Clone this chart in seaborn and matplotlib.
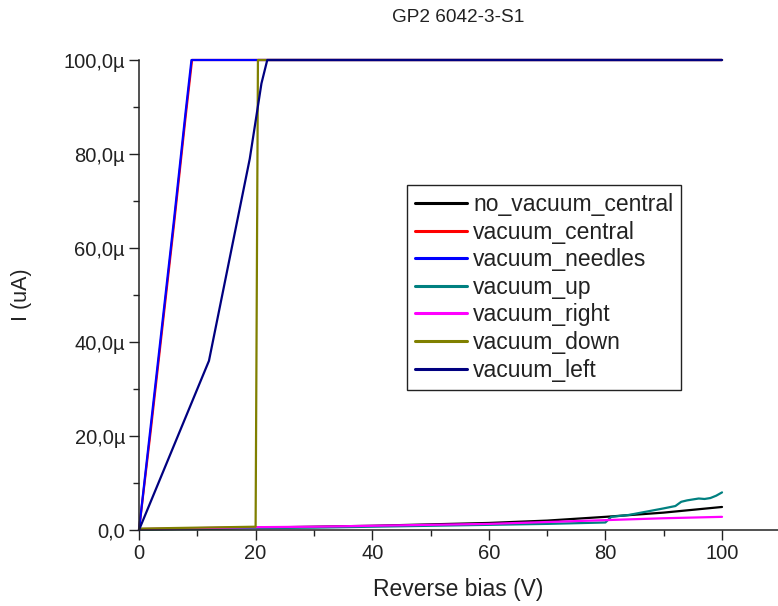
import matplotlib
matplotlib.use("Agg")
import matplotlib.pyplot as plt
from matplotlib.ticker import FuncFormatter, MultipleLocator
import seaborn as sns
import pandas as pd

sns.set_theme(style="white")
plt.rcParams["font.family"] = ["Liberation Sans", "DejaVu Sans"]

title = "GP2 6042-3-S1"
x_label = "Reverse bias (V)"
y_label = "I (uA)"

# Current in µA versus reverse bias in V for each probing condition
no_vacuum_central_v = [0, 10, 20, 30, 40, 50, 60, 70, 80, 90, 100]
no_vacuum_central_i = [0.1, 0.3, 0.5, 0.7, 0.9, 1.2, 1.5, 2.0, 2.8, 3.7, 4.9]

vacuum_central_v = [0, 2, 4, 6, 8, 9.1, 10, 100]
vacuum_central_i = [0.0, 21, 43, 65, 88, 100, 100, 100]

vacuum_needles_v = [0, 2, 4, 6, 8, 9.0, 10, 100]
vacuum_needles_i = [0.0, 22, 44, 66, 89, 100, 100, 100]

vacuum_up_v = [0, 10, 20, 30, 40, 50, 60, 70, 80, 81, 84, 87, 90, 92, 93, 94, 95, 96, 97, 98, 99, 100]
vacuum_up_i = [0.1, 0.2, 0.4, 0.5, 0.7, 0.9, 1.1, 1.3, 1.6, 2.8, 3.2, 3.9, 4.6, 5.1, 6.0, 6.3, 6.5, 6.7, 6.6, 6.8, 7.3, 8.0]

vacuum_right_v = [0, 10, 20, 30, 40, 50, 60, 70, 80, 90, 100]
vacuum_right_i = [0.2, 0.4, 0.6, 0.7, 0.9, 1.1, 1.3, 1.7, 2.1, 2.5, 2.8]

vacuum_down_v = [0, 5, 10, 15, 20, 20.4, 30, 100]
vacuum_down_i = [0.3, 0.4, 0.5, 0.6, 0.7, 100, 100, 100]

vacuum_left_v = [0, 6, 12, 19, 21, 22, 30, 100]
vacuum_left_i = [0.0, 18, 36, 79, 95, 100, 100, 100]

series = [
    ("no_vacuum_central", no_vacuum_central_v, no_vacuum_central_i, "#000000"),
    ("vacuum_central", vacuum_central_v, vacuum_central_i, "#ff0000"),
    ("vacuum_needles", vacuum_needles_v, vacuum_needles_i, "#0000ff"),
    ("vacuum_up", vacuum_up_v, vacuum_up_i, "#008080"),
    ("vacuum_right", vacuum_right_v, vacuum_right_i, "#ff00ff"),
    ("vacuum_down", vacuum_down_v, vacuum_down_i, "#808000"),
    ("vacuum_left", vacuum_left_v, vacuum_left_i, "#000080"),
]

fig = plt.figure(figsize=(7.78, 6.06), dpi=100)
ax = fig.add_axes([139 / 778, 1 - 530 / 606, 1 - 139 / 778, (530 - 60) / 606])

for name, v, i, color in series:
    df = pd.DataFrame({"V": v, "I": i})
    sns.lineplot(data=df, x="V", y="I", ax=ax, color=color, label=name,
                 linewidth=1.6, estimator=None, sort=False)
for line in ax.get_lines():
    line.set_clip_on(False)

ax.set_xlim(0, 109.6)
ax.set_ylim(0, 100)
ax.xaxis.set_major_locator(MultipleLocator(20))
ax.xaxis.set_minor_locator(MultipleLocator(10))
ax.yaxis.set_major_locator(MultipleLocator(20))
ax.yaxis.set_minor_locator(MultipleLocator(10))

def fmt_x(val, pos):
    return f"{val:.0f}"

def fmt_y(val, pos):
    if abs(val) < 1e-9:
        return "0,0"
    return f"{val:.1f}".replace(".", ",") + "µ"

ax.xaxis.set_major_formatter(FuncFormatter(fmt_x))
ax.yaxis.set_major_formatter(FuncFormatter(fmt_y))

ax.tick_params(axis="both", which="major", direction="out", length=7, width=1.0,
               color="#222222", labelsize=14.5, labelcolor="#222222", pad=3,
               bottom=True, left=True)
ax.tick_params(axis="both", which="minor", direction="out", length=4, width=1.0,
               color="#222222", bottom=True, left=True)

for side in ["top", "right"]:
    ax.spines[side].set_visible(False)
for side in ["left", "bottom"]:
    ax.spines[side].set_color("#222222")
    ax.spines[side].set_linewidth(1.1)

ax.set_xlabel(x_label, fontsize=16.5, color="#222222")
ax.set_ylabel(y_label, fontsize=15.5, color="#222222")
ax.xaxis.set_label_coords(0.5, -0.102)
ax.yaxis.set_label_coords(-0.168, 0.5)
ax.set_title(title, fontsize=13.7, color="#222222", pad=27)

leg = ax.legend(loc="upper left", bbox_to_anchor=(0.419, 0.734), fontsize=16.5,
                frameon=True, fancybox=False, edgecolor="#222222", framealpha=1,
                handlelength=2.3, handletextpad=0.25, labelspacing=0.2,
                borderpad=0.35, borderaxespad=0)
leg.get_frame().set_linewidth(1.0)
for t in leg.get_texts():
    t.set_color("#222222")
for line in leg.get_lines():
    line.set_linewidth(2.2)

fig.savefig("out.png", dpi=100)
